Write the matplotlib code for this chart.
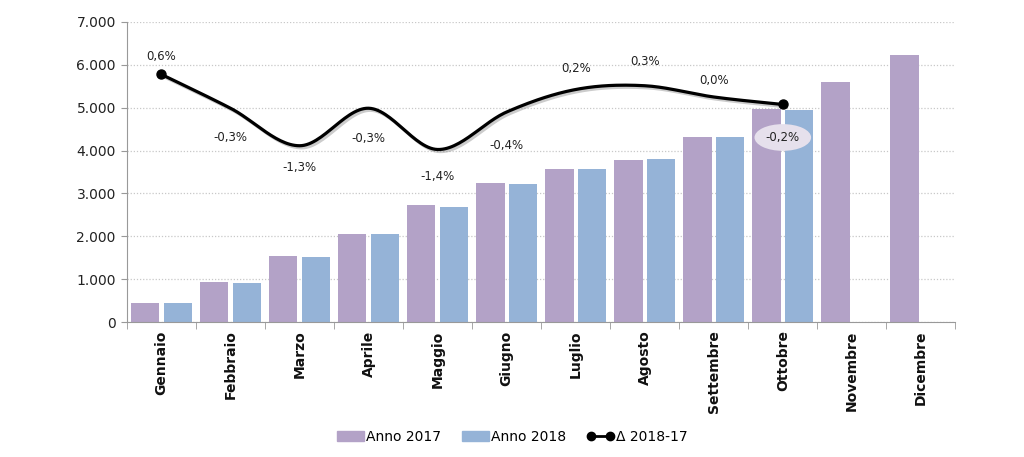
import numpy as np
import matplotlib.pyplot as plt
from matplotlib.patches import Patch
from matplotlib.lines import Line2D
import matplotlib.patheffects as pe

mesi = ['Gennaio', 'Febbraio', 'Marzo', 'Aprile', 'Maggio', 'Giugno',
        'Luglio', 'Agosto', 'Settembre', 'Ottobre', 'Novembre', 'Dicembre']
anno_2017 = [440, 930, 1540, 2055, 2730, 3245, 3570, 3780, 4315, 4975, 5610, 6235]
anno_2018 = [440, 915, 1515, 2055, 2690, 3225, 3575, 3795, 4315, 4945]
delta = [0.6, -0.3, -1.3, -0.3, -1.4, -0.4, 0.2, 0.3, 0.0, -0.2]
delta_labels = ['0,6%', '-0,3%', '-1,3%', '-0,3%', '-1,4%', '-0,4%',
                '0,2%', '0,3%', '0,0%', '-0,2%']
# label offsets in pixels (dx, dy) from the line point
label_offsets = [(0, 18), (0, -29), (0, -22), (0, -30), (0, -27), (0, -34),
                 (0, 21), (0, 24), (0, 16), (0, -33)]

c2017 = '#B3A2C7'
c2018 = '#95B3D7'


def smooth(x, y, n=30):
  # Catmull-Rom via cubic bezier, like an Excel smoothed line
  x = np.asarray(x, float)
  y = np.asarray(y, float)
  px = np.concatenate([[x[0]], x, [x[-1]]])
  py = np.concatenate([[y[0]], y, [y[-1]]])
  xs, ys = [], []
  t = np.linspace(0, 1, n)
  for i in range(1, len(px) - 2):
    p0 = np.array([px[i], py[i]])
    p3 = np.array([px[i + 1], py[i + 1]])
    p1 = p0 + (np.array([px[i + 1], py[i + 1]]) - np.array([px[i - 1], py[i - 1]])) / 6
    p2 = p3 - (np.array([px[i + 2], py[i + 2]]) - np.array([px[i], py[i]])) / 6
    b = ((1 - t)**3)[:, None] * p0 + (3 * (1 - t)**2 * t)[:, None] * p1 \
        + (3 * (1 - t) * t**2)[:, None] * p2 + (t**3)[:, None] * p3
    xs.extend(b[:, 0])
    ys.extend(b[:, 1])
  return np.array(xs), np.array(ys)


fig = plt.figure(figsize=(10.24, 4.57), dpi=100)
ax = fig.add_axes([0.124, 0.2954, 0.809, 0.6565])

x = np.arange(len(mesi))
w = 0.41
ax.bar(x - 0.236, anno_2017, width=w, color=c2017, zorder=2)
ax.bar(x[:len(anno_2018)] + 0.236, anno_2018, width=w, color=c2018, zorder=2)

ax.set_xlim(-0.5, len(mesi) - 0.5)
ax.set_ylim(0, 7000)
ax.set_yticks(np.arange(0, 7001, 1000))
ax.set_yticklabels(['{:,}'.format(v).replace(',', '.') for v in range(0, 7001, 1000)],
                   fontsize=10, color='#222222')
ax.yaxis.grid(True, linestyle=(0, (1, 1.5)), color='#c8c8c8', linewidth=0.9, zorder=0)
ax.set_axisbelow(True)

ax.set_xticks(x)
ax.set_xticklabels(mesi, rotation=90, fontsize=10, fontweight='bold', color='#111111')
ax.set_xticks(np.arange(-0.5, len(mesi)), minor=True)
ax.tick_params(axis='x', which='major', length=0, pad=6)
ax.tick_params(axis='x', which='minor', length=5, color='#999999')
ax.tick_params(axis='y', length=4, color='#999999', pad=4)

for s in ['top', 'right']:
  ax.spines[s].set_visible(False)
ax.spines['left'].set_color('#999999')
ax.spines['bottom'].set_color('#999999')

ax2 = ax.twinx()
ax2.set_ylim(-6, 2)
ax2.axis('off')
xd = np.arange(len(delta))
sx, sy = smooth(xd, delta)
ax2.plot(sx, sy, color='black', linewidth=2.3, solid_capstyle='round', zorder=3,
         path_effects=[pe.SimpleLineShadow(offset=(1.5, -1.5), shadow_color='gray', alpha=0.4),
                       pe.Normal()])
ax2.plot([xd[0], xd[-1]], [delta[0], delta[-1]], 'o', color='black', markersize=6.5, zorder=4)

for i, (lab, off) in enumerate(zip(delta_labels, label_offsets)):
  bbox = None
  if i == len(delta) - 1:
    bbox = dict(boxstyle='ellipse,pad=0.25', fc='#E6E0EC', ec='none')
  ax2.annotate(lab, (xd[i], delta[i]), xytext=off, textcoords='offset pixels',
               ha='center', va='center', fontsize=8.5, color='#222222', bbox=bbox)

handles = [Patch(color=c2017, label='Anno 2017'),
           Patch(color=c2018, label='Anno 2018'),
           Line2D([0], [0], color='black', marker='o', markersize=6, linewidth=2,
                  label='Δ 2018-17')]
fig.legend(handles=handles, loc='center', bbox_to_anchor=(0.5, 0.044), ncol=3,
           frameon=False, fontsize=10, numpoints=2, handlelength=2.0,
           handletextpad=0.1, columnspacing=1.5)

fig.savefig('out.png', dpi=100)
